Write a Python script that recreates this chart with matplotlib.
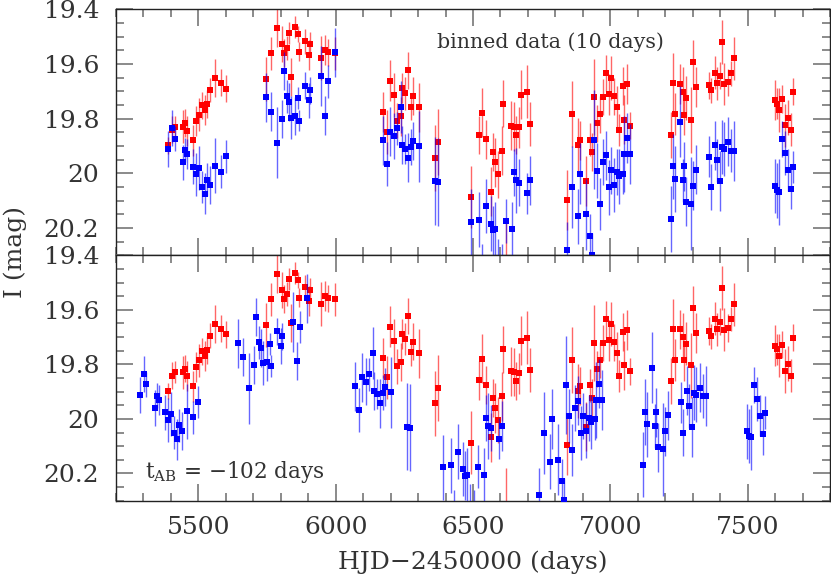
import matplotlib
matplotlib.use('Agg')
import matplotlib.pyplot as plt
from matplotlib.ticker import MultipleLocator, FuncFormatter

plt.rcParams['font.family'] = ['DejaVu Serif']
plt.rcParams['mathtext.fontset'] = 'dejavuserif'

# ---------------- data: image A (red) ----------------
red_t = [5389, 5405, 5413, 5445, 5453, 5460, 5480, 5492, 5504, 5512, 5524, 5531, 5542, 5561, 5581, 5602,
         5746, 5763, 5787, 5804, 5812, 5821, 5829, 5837, 5853, 5862, 5868, 5890, 5901, 5908, 5947, 5960, 5972, 5999,
         6173, 6188, 6198, 6214, 6223, 6237, 6242, 6253, 6265, 6275, 6283, 6304, 6361, 6371,
         6493, 6523, 6534, 6549, 6565, 6572, 6581, 6592, 6604, 6611, 6619, 6639, 6649, 6657, 6666, 6676, 6695, 6708,
         6842, 6860, 6883, 6889, 6911, 6925, 6932, 6942, 6953, 6961, 6973, 6983, 6994, 7001, 7012, 7025, 7031,
         7045, 7049, 7061, 7070,
         7221, 7229, 7236, 7253, 7263, 7269, 7277, 7294, 7300, 7311,
         7359, 7367, 7380, 7387, 7398, 7405, 7415, 7428, 7439, 7449,
         7599, 7607, 7615, 7627, 7636, 7648, 7658, 7666]
red_m = [19.898, 19.841, 19.829, 19.829, 19.816, 19.844, 19.880, 19.809, 19.785, 19.752, 19.768, 19.747, 19.695,
         19.651, 19.669, 19.690,
         19.655, 19.561, 19.467, 19.528, 19.560, 19.542, 19.487, 19.647, 19.465, 19.490, 19.556, 19.517, 19.568,
         19.527, 19.579, 19.549, 19.558, 19.561,
         19.776, 19.848, 19.662, 19.714, 19.807, 19.792, 19.688, 19.707, 19.623, 19.756, 19.717, 19.759, 19.943, 19.886,
         20.087, 19.859, 19.779, 19.876, 20.068, 19.923, 19.960, 20.004, 19.917, 19.745, 20.32, 19.826, 19.829, 19.861,
         19.832, 19.713, 19.702, 19.821,
         20.097, 19.784, 19.897, 19.880, 20.028, 19.877, 19.922, 19.721, 19.817, 19.784, 19.721, 19.633, 19.711,
         19.651, 19.719, 19.757, 19.842, 19.680, 19.804, 19.675, 19.826,
         19.860, 19.671, 19.784, 19.672, 19.701, 19.785, 19.724, 19.804, 19.593, 19.685,
         19.678, 19.697, 19.632, 19.671, 19.643, 19.520, 19.673, 19.667, 19.634, 19.580,
         19.731, 19.745, 19.768, 19.728, 19.825, 19.797, 19.841, 19.702]
red_e = [0.03, 0.05, 0.04, 0.06, 0.05, 0.055, 0.057, 0.055, 0.06, 0.05, 0.055, 0.05, 0.045, 0.07, 0.05, 0.05,
         0.08, 0.06, 0.07, 0.065, 0.05, 0.045, 0.04, 0.07, 0.04, 0.03, 0.035, 0.045, 0.055, 0.045, 0.08, 0.055, 0.05, 0.06,
         0.073, 0.08, 0.075, 0.08, 0.065, 0.07, 0.055, 0.06, 0.067, 0.05, 0.068, 0.09, 0.12, 0.12,
         0.115, 0.07, 0.09, 0.07, 0.09, 0.07, 0.09, 0.085, 0.09, 0.085, 0.14, 0.09, 0.088, 0.07, 0.075, 0.09, 0.097, 0.08,
         0.11, 0.12, 0.10, 0.07, 0.09, 0.06, 0.07, 0.14, 0.067, 0.067, 0.065, 0.065, 0.075, 0.08, 0.067, 0.076, 0.058,
         0.07, 0.09, 0.073, 0.05,
         0.085, 0.11, 0.076, 0.073, 0.09, 0.076, 0.08, 0.12, 0.08, 0.073,
         0.05, 0.045, 0.06, 0.06, 0.05, 0.08, 0.078, 0.05, 0.045, 0.08,
         0.074, 0.058, 0.08, 0.05, 0.08, 0.064, 0.06, 0.049]

# ---------------- data: image B (blue) ----------------
blue_t = [5389, 5405, 5413, 5445, 5453, 5460, 5480, 5492, 5504, 5512, 5524, 5531, 5542, 5561, 5581, 5602,
          5746, 5763, 5787, 5804, 5812, 5821, 5829, 5837, 5853, 5862, 5868, 5890, 5901, 5908, 5947, 5960, 5972, 5999,
          6173, 6188, 6198, 6214, 6223, 6237, 6242, 6253, 6265, 6275, 6283, 6304, 6361, 6371,
          6493, 6523, 6534, 6549, 6565, 6572, 6581, 6592, 6604, 6619, 6641, 6649, 6657, 6666, 6695, 6708,
          6842, 6860, 6883, 6889, 6911, 6925, 6932, 6942, 6953, 6961, 6973, 6983, 6994, 7001, 7012, 7025, 7031,
          7045, 7049, 7061, 7070,
          7221, 7229, 7236, 7253, 7263, 7269, 7277, 7294, 7300, 7311,
          7359, 7367, 7380, 7387, 7398, 7405, 7415, 7428, 7439, 7449,
          7599, 7607, 7615, 7627, 7636, 7648, 7658, 7666]
blue_m = [19.912, 19.835, 19.873, 19.960, 19.915, 19.930, 19.976, 20.004, 19.982, 20.050, 20.075, 20.023, 20.043,
          19.972, 19.994, 19.938,
          19.722, 19.774, 19.888, 19.802, 19.627, 19.719, 19.739, 19.796, 19.790, 19.724, 19.807, 19.679, 19.733,
          19.697, 19.645, 19.789, 19.663, 19.558,
          19.880, 19.967, 19.848, 19.863, 19.836, 19.759, 19.897, 19.910, 19.943, 19.904, 19.883, 19.902, 20.029, 20.032,
          20.178, 20.170, 20.36, 20.120, 20.184, 20.209, 20.205, 20.34, 20.38, 20.175, 20.205, 19.997, 20.026, 20.034,
          20.073, 20.026,
          20.280, 20.051, 20.157, 20.001, 20.150, 20.228, 20.298, 19.877, 19.990, 20.114, 19.959, 19.934, 20.051,
          19.989, 20.043, 19.996, 20.011, 20.001, 19.930, 19.871, 19.931,
          20.168, 19.975, 20.020, 19.812, 20.026, 19.975, 20.104, 20.111, 20.045, 19.987,
          19.939, 20.050, 19.897, 19.953, 20.029, 19.904, 19.911, 19.885, 19.917, 19.917,
          20.046, 20.062, 20.068, 19.875, 19.926, 19.988, 20.056, 19.977]
blue_e = [0.065, 0.065, 0.045, 0.065, 0.045, 0.055, 0.065, 0.08, 0.08, 0.06, 0.075, 0.06, 0.07, 0.1, 0.06, 0.06,
          0.09, 0.07, 0.13, 0.07, 0.07, 0.06, 0.07, 0.08, 0.07, 0.04, 0.04, 0.05, 0.065, 0.05, 0.11, 0.07, 0.06, 0.09,
          0.09, 0.08, 0.09, 0.085, 0.06, 0.095, 0.07, 0.055, 0.09, 0.065, 0.07, 0.13, 0.16, 0.16,
          0.12, 0.10, 0.10, 0.10, 0.10, 0.09, 0.10, 0.10, 0.12, 0.08, 0.10, 0.085, 0.12, 0.085, 0.075, 0.09,
          0.10, 0.15, 0.10, 0.11, 0.13, 0.08, 0.08, 0.18, 0.10, 0.095, 0.085, 0.09, 0.10, 0.085, 0.10, 0.085, 0.10,
          0.075, 0.14, 0.09, 0.11,
          0.12, 0.12, 0.12, 0.13, 0.08, 0.09, 0.09, 0.17, 0.09, 0.09,
          0.075, 0.085, 0.09, 0.08, 0.11, 0.10, 0.10, 0.09, 0.08, 0.11,
          0.10, 0.10, 0.12, 0.065, 0.08, 0.075, 0.075, 0.06]

time_delay = -102  # t_AB (days), applied to image B in lower panel

x_ticks = [5500, 6000, 6500, 7000, 7500]
y_ticks = [19.4, 19.6, 19.8, 20.0, 20.2]

fig = plt.figure(figsize=(8.31, 5.76), dpi=100)
ax1 = fig.add_axes([0.1396, 0.5568, 0.8592, 0.4271])
ax2 = fig.add_axes([0.1396, 0.1307, 0.8592, 0.4261])


def draw(ax, bt):
    ax.errorbar(red_t, red_m, yerr=red_e, fmt='none', ecolor=(1, 0, 0, 0.6), elinewidth=1.0, capsize=0, zorder=2)
    ax.plot(red_t, red_m, 's', color='#ff0000', ms=3.9, mew=0, zorder=3)
    ax.errorbar(bt, blue_m, yerr=blue_e, fmt='none', ecolor=(0, 0, 1, 0.6), elinewidth=1.0, capsize=0, zorder=4)
    ax.plot(bt, blue_m, 's', color='#0000ff', ms=3.9, mew=0, zorder=5)


draw(ax1, blue_t)
draw(ax2, [t + time_delay for t in blue_t])

fmt = FuncFormatter(lambda v, p: f'{v:g}')
for ax in (ax1, ax2):
    ax.set_xlim(5200, 7800)
    ax.set_ylim(20.3, 19.4)
    ax.set_xticks(x_ticks)
    ax.set_yticks(y_ticks)
    ax.xaxis.set_minor_locator(MultipleLocator(100))
    ax.yaxis.set_minor_locator(MultipleLocator(0.05))
    ax.yaxis.set_major_formatter(fmt)
    ax.tick_params(which='both', direction='in', top=True, right=True, color='#777777', width=1.2)
    ax.tick_params(which='major', length=12)
    ax.tick_params(which='minor', length=6)
    ax.tick_params(axis='both', labelsize=18, labelcolor='#333333')
    ax.tick_params(axis='x', pad=11)
    ax.tick_params(axis='y', pad=12)
    for s in ax.spines.values():
        s.set_color('#222222')
        s.set_linewidth(1.0)

ax1.tick_params(labelbottom=False)

ax1.text(0.45, 0.843, 'binned data (10 days)', transform=ax1.transAxes, ha='left', va='baseline',
         fontsize=14.8, color='#333333')
ax2.text(0.041, 0.091, r'$\mathrm{t}_{\mathrm{AB}}$ = $-$102 days', transform=ax2.transAxes, ha='left',
         va='baseline', fontsize=15.5, color='#333333')

fig.text(15 / 831, 1 - 252 / 576, 'I (mag)', rotation=90, ha='center', va='center', fontsize=18, color='#333333')
fig.text(473 / 831, 0.012, 'HJD\u22122450000 (days)', ha='center', va='baseline', fontsize=18, color='#333333')

fig.savefig('out.png', dpi=100)
